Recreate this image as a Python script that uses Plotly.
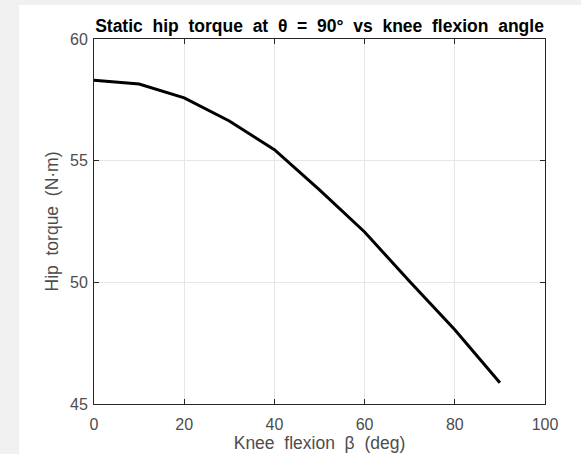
import plotly.graph_objects as go

knee_deg = [0, 10, 20, 30, 40, 50, 60, 70, 80, 90]
hip_torque = [58.31, 58.15, 57.58, 56.63, 55.45, 53.80, 52.07, 50.03, 48.05, 45.87]
x_ticks = [0, 20, 40, 60, 80, 100]
y_ticks = [45, 50, 55, 60]

W, H = 581, 454
L, R, T, B = 94, 36, 39, 50
pw, ph = W - L - R, H - T - B
FONT = "Liberation Sans, Arial, Helvetica"

fig = go.Figure()
fig.add_trace(go.Scatter(x=knee_deg, y=hip_torque, mode="lines",
                         line=dict(color="black", width=3), showlegend=False))

nb = "\u00a0"
sp = nb * 2
title = sp.join(["Static", "hip", "torque", "at", "θ", "=", "90°", "vs", "knee", "flexion", "angle"])

axis_common = dict(showgrid=True, gridcolor="#e6e6e6", gridwidth=1,
                   showline=True, linecolor="#262626", linewidth=1, mirror="ticks",
                   ticks="inside", ticklen=5, tickcolor="#262626", zeroline=False,
                   automargin=False,
                   tickfont=dict(family=FONT, size=16, color="#4d4d4d"))

fig.update_layout(
    width=W, height=H,
    margin=dict(l=L, r=R, t=T, b=B, autoexpand=False),
    paper_bgcolor="#f0f0f0", plot_bgcolor="white",
    title=dict(text=title, x=(L + pw / 2) / W, xanchor="center",
               y=1 - 32 / H, yanchor="bottom",
               font=dict(family=FONT, size=17.5, color="black", weight="bold")),
    xaxis=dict(range=[0, 100], tickvals=x_ticks, ticktext=[str(v) for v in x_ticks],
               ticklabelstandoff=6,
               title=dict(text=sp.join(["Knee", "flexion", "β", "(deg)"]), standoff=3,
                          font=dict(family=FONT, size=17.5, color="#4d4d4d")),
               **axis_common),
    yaxis=dict(range=[45, 60], tickvals=y_ticks, ticktext=[str(v) for v in y_ticks],
               ticklabelstandoff=2,
               title=dict(text=sp.join(["Hip", "torque", "(N·m)"]), standoff=6,
                          font=dict(family=FONT, size=17.5, color="#4d4d4d")),
               **axis_common),
    shapes=[dict(type="rect", xref="paper", yref="paper", layer="below",
                 x0=(19 - L) / pw, x1=(W - L) / pw,
                 y0=-B / ph, y1=(H - B - 5) / ph,
                 fillcolor="white", line=dict(width=0))],
)

fig.write_html("out.html")
